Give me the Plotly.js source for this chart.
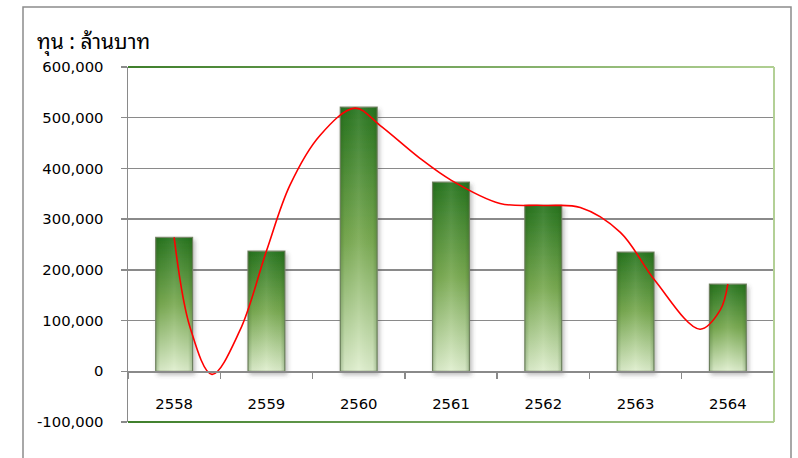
<!DOCTYPE html>
<html>
<head>
<meta charset="utf-8">
<script src="https://cdn.plot.ly/plotly-3.0.1.min.js"></script>
<style>
  html, body { margin: 0; padding: 0; background: #ffffff; }
  #chart { width: 798px; height: 458px; }
</style>
</head>
<body>
<div id="chart"></div>
<script>
// ---- data ----
const years = ['2558', '2559', '2560', '2561', '2562', '2563', '2564'];
const capital = [264000, 237000, 521000, 373000, 327000, 235000, 172000];
// red smoothed curve as drawn in the picture (position in category units, value)
const curveX = [0, 0.172, 0.41, 0.714, 1, 1.255, 1.58, 1.96, 2.23, 2.664, 3, 3.531, 4, 4.401, 4.835, 5.21, 5.698, 5.915, 6];
const curveY = [264000, 87000, -6000, 81000, 237000, 367000, 465000, 519000, 485000, 420000, 377000, 331000, 327000, 323000, 274000, 179000, 83000, 120000, 172000];
const yTickVals = [-100000, 0, 100000, 200000, 300000, 400000, 500000, 600000];
const yTickText = ['-100,000', '0', '100,000', '200,000', '300,000', '400,000', '500,000', '600,000'];
const unitLabel = 'ทุน : ล้านบาท';

const tickFont = { family: 'DejaVu Sans, Tahoma, sans-serif', size: 14.8, color: '#000000' };
const gray = '#8a8a8a';

const traces = [
  {
    type: 'bar',
    x: years,
    y: capital,
    width: 0.4,
    marker: { color: '#7fb058', line: { color: '#7b8a6c', width: 1.2 } },
    hoverinfo: 'x+y'
  },
  {
    type: 'scatter',
    mode: 'lines',
    x: curveX,
    y: curveY,
    xaxis: 'x2',
    line: { shape: 'spline', smoothing: 1, color: '#ff0000', width: 1.6 },
    hoverinfo: 'skip'
  }
];

const layout = {
  width: 798,
  height: 458,
  margin: { l: 128, r: 24, t: 67, b: 36 },
  paper_bgcolor: '#ffffff',
  plot_bgcolor: '#ffffff',
  showlegend: false,
  title: {
    text: unitLabel,
    font: { family: 'Tahoma, "Noto Sans Thai Looped", Loma, Garuda, Kinnari, "Noto Serif Thai", "Noto Sans Thai", sans-serif', size: 21, color: '#000000' },
    x: 37 / 798, xref: 'container', xanchor: 'left',
    y: 1 - 42 / 458, yref: 'container', yanchor: 'middle'
  },
  xaxis: {
    type: 'category',
    range: [-0.5, 6.5],
    anchor: 'free',
    position: 1 / 7,
    showline: true, linecolor: gray, linewidth: 1.5,
    ticks: 'outside', tickson: 'boundaries', ticklen: 6, tickwidth: 1.5, tickcolor: gray,
    showgrid: false,
    tickfont: tickFont,
    ticklabelstandoff: 18,
    fixedrange: true
  },
  xaxis2: {
    overlaying: 'x',
    range: [-0.5, 6.5],
    visible: false,
    fixedrange: true
  },
  yaxis: {
    range: [-100000, 600000],
    tickvals: yTickVals,
    ticktext: yTickText,
    showgrid: true, gridcolor: gray, gridwidth: 1.5,
    zeroline: false,
    showline: true, linecolor: gray, linewidth: 1.5,
    ticks: 'outside', ticklen: 6, tickwidth: 1.5, tickcolor: gray,
    tickfont: tickFont,
    ticklabelstandoff: 14,
    fixedrange: true
  },
  shapes: [
    // outer chart frame
    { type: 'rect', xref: 'paper', yref: 'paper',
      x0: (23 - 128) / 646, x1: (791 - 128) / 646, y0: -0.4, y1: (422 - 7) / 355,
      line: { color: '#8c8c8c', width: 1.5 }, layer: 'below' },
    // plot area frame (top / right / bottom)
    { type: 'line', xref: 'paper', yref: 'paper', x0: 0, x1: 1, y0: 1, y1: 1,
      line: { color: '#6f9f4c', width: 2 } },
    { type: 'line', xref: 'paper', yref: 'paper', x0: 1, x1: 1, y0: 0, y1: 1,
      line: { color: '#b3d096', width: 2 } },
    { type: 'line', xref: 'paper', yref: 'paper', x0: 0, x1: 1, y0: 0, y1: 0,
      line: { color: '#6f9f4c', width: 2 } }
  ]
};

const gd = document.getElementById('chart');

function decorate() {
  const svg = gd.querySelector('svg.main-svg');
  if (!svg) return;
  const ns = 'http://www.w3.org/2000/svg';
  let defs = svg.querySelector('defs');
  if (!defs) { defs = document.createElementNS(ns, 'defs'); svg.insertBefore(defs, svg.firstChild); }
  if (!svg.querySelector('#barGradV')) {
    defs.insertAdjacentHTML('beforeend',
      '<linearGradient id="barGradV" x1="0" y1="0" x2="0" y2="1">' +
        '<stop offset="0" stop-color="#287520"/>' +
        '<stop offset="0.5" stop-color="#7aaa52"/>' +
        '<stop offset="1" stop-color="#e0efcf"/>' +
      '</linearGradient>' +
      '<linearGradient id="barGradH" x1="0" y1="0" x2="1" y2="0">' +
        '<stop offset="0" stop-color="#1e4a10" stop-opacity="0.28"/>' +
        '<stop offset="0.12" stop-color="#1e4a10" stop-opacity="0.05"/>' +
        '<stop offset="0.5" stop-color="#ffffff" stop-opacity="0.08"/>' +
        '<stop offset="0.88" stop-color="#1e4a10" stop-opacity="0.05"/>' +
        '<stop offset="1" stop-color="#1e4a10" stop-opacity="0.28"/>' +
      '</linearGradient>' +
      '<linearGradient id="frameGrad" gradientUnits="userSpaceOnUse" x1="128" y1="0" x2="774" y2="0">' +
        '<stop offset="0" stop-color="#3f7f2c"/>' +
        '<stop offset="1" stop-color="#b0cf92"/>' +
      '</linearGradient>' +
      '<filter id="barShadow" x="-30%" y="-10%" width="160%" height="130%">' +
        '<feDropShadow dx="2" dy="3" stdDeviation="2" flood-color="#404040" flood-opacity="0.35"/>' +
      '</filter>');
  }
  gd.querySelectorAll('.barlayer .bars path').forEach(p => {
    if (p.dataset.deco) return;
    p.dataset.deco = '1';
    p.style.fill = 'url(#barGradV)';
    p.style.fillOpacity = '1';
    p.setAttribute('filter', 'url(#barShadow)');
    const c = p.cloneNode(false);
    c.removeAttribute('filter');
    c.dataset.deco = '1';
    c.style.fill = 'url(#barGradH)';
    c.style.stroke = 'none';
    p.parentNode.insertBefore(c, p.nextSibling);
  });
  gd.querySelectorAll('.shapelayer path').forEach(p => {
    const d = p.getAttribute('d') || '';
    const m = d.match(/^M([\d.]+),([\d.]+)H([\d.]+)$/) || d.match(/^M([\d.]+),([\d.]+)L([\d.]+),([\d.]+)$/);
    if (m && (m.length === 4 || m[2] === m[4])) {
      p.style.stroke = 'url(#frameGrad)';
    }
  });
}

Plotly.newPlot(gd, traces, layout, { displayModeBar: false, staticPlot: true }).then(decorate);
gd.on && gd.on('plotly_afterplot', decorate);
</script>
</body>
</html>
